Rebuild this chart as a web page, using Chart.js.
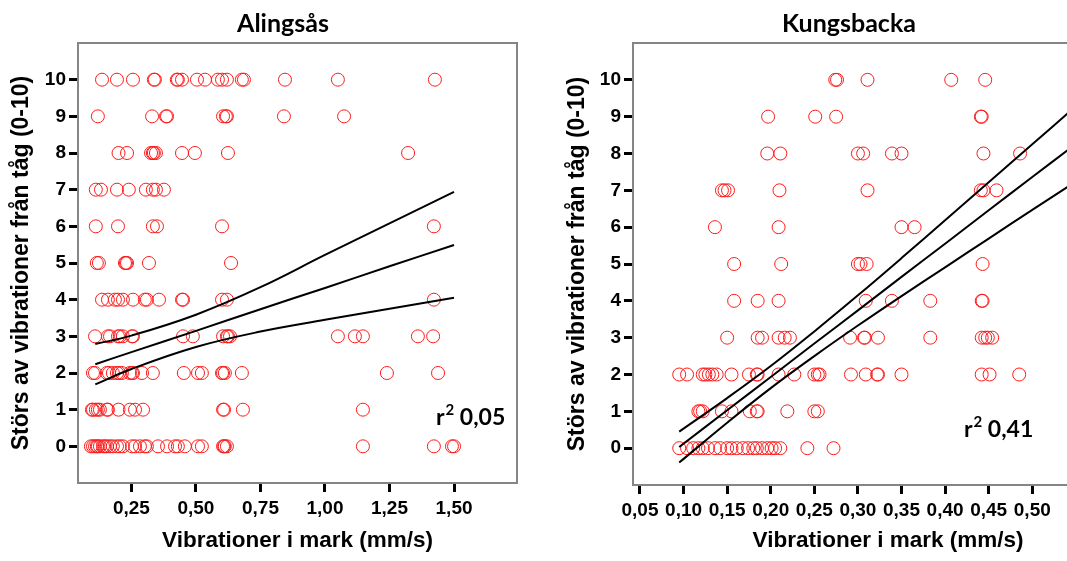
<!DOCTYPE html>
<html>
<head>
<meta charset="utf-8">
<script src="https://cdn.jsdelivr.net/npm/chart.js@4.4.1/dist/chart.umd.min.js"></script>
<style>
  html, body { margin: 0; padding: 0; background: #fff; overflow: hidden; width: 1067px; height: 561px; }
  canvas { position: absolute; top: 0; }
  #alingsas { left: 0; }
  #kungsbacka { left: 533px; }
</style>
</head>
<body>
<canvas id="alingsas" width="533" height="561"></canvas>
<canvas id="kungsbacka" width="630" height="561"></canvas>
<script>
// Tick labels
const scoreTicks = [0, 1, 2, 3, 4, 5, 6, 7, 8, 9, 10];
const alingsasXTicks = [0.25, 0.5, 0.75, 1.0, 1.25, 1.5];
const kungsbackaXTicks = [0.05, 0.10, 0.15, 0.20, 0.25, 0.30, 0.35, 0.40, 0.45, 0.50];

// Alingsås: vibration values (mm/s) per annoyance score, index = score 0..10
const alingsasByScore = [
  [0.093, 0.101, 0.109, 0.116, 0.12, 0.128, 0.14, 0.147, 0.155, 0.167, 0.178, 0.194, 0.205, 0.217, 0.252, 0.264, 0.283, 0.302, 0.31, 0.353, 0.388, 0.419, 0.43, 0.457, 0.508, 0.523, 0.605, 0.609, 0.612, 0.62, 1.147, 1.422, 1.492, 1.5],
  [0.097, 0.101, 0.112, 0.12, 0.128, 0.155, 0.159, 0.2, 0.244, 0.264, 0.295, 0.605, 0.609, 0.682, 1.147],
  [0.101, 0.109, 0.155, 0.163, 0.178, 0.194, 0.202, 0.213, 0.244, 0.252, 0.256, 0.291, 0.333, 0.453, 0.508, 0.523, 0.601, 0.605, 0.612, 0.678, 1.24, 1.438],
  [0.109, 0.159, 0.167, 0.198, 0.205, 0.217, 0.252, 0.256, 0.45, 0.488, 0.605, 0.62, 0.624, 0.632, 1.05, 1.116, 1.147, 1.36, 1.419],
  [0.136, 0.159, 0.186, 0.198, 0.217, 0.256, 0.302, 0.31, 0.357, 0.446, 0.45, 0.601, 0.62, 1.422],
  [0.116, 0.124, 0.225, 0.229, 0.233, 0.318, 0.636],
  [0.112, 0.198, 0.333, 0.349, 0.601, 1.422],
  [0.112, 0.132, 0.194, 0.24, 0.306, 0.333, 0.345, 0.376],
  [0.2, 0.233, 0.326, 0.333, 0.337, 0.345, 0.446, 0.496, 0.624, 1.322],
  [0.12, 0.33, 0.384, 0.388, 0.605, 0.616, 0.62, 0.841, 1.074],
  [0.136, 0.194, 0.256, 0.337, 0.341, 0.426, 0.43, 0.446, 0.504, 0.535, 0.585, 0.601, 0.62, 0.678, 0.686, 0.845, 1.05, 1.426]
];
// Alingsås regression line and confidence band
const alingsasFitX = [0.11, 0.25, 0.5, 0.75, 1.0, 1.25, 1.5];
const alingsasFit = [2.24, 2.57, 3.15, 3.74, 4.32, 4.91, 5.49];
const alingsasUpper = [2.79, 3.02, 3.59, 4.34, 5.22, 6.08, 6.94];
const alingsasLower = [1.69, 2.11, 2.71, 3.13, 3.45, 3.75, 4.05];

// Kungsbacka: vibration values (mm/s) per annoyance score, index = score 0..10
const kungsbackaByScore = [
  [0.095, 0.104, 0.111, 0.117, 0.122, 0.128, 0.136, 0.142, 0.15, 0.155, 0.161, 0.168, 0.174, 0.18, 0.184, 0.19, 0.196, 0.201, 0.205, 0.211, 0.242, 0.272],
  [0.117, 0.119, 0.122, 0.144, 0.155, 0.176, 0.184, 0.185, 0.219, 0.25, 0.254],
  [0.095, 0.104, 0.122, 0.125, 0.129, 0.133, 0.138, 0.155, 0.175, 0.184, 0.185, 0.209, 0.227, 0.25, 0.254, 0.256, 0.292, 0.309, 0.322, 0.323, 0.35, 0.442, 0.451, 0.485],
  [0.15, 0.185, 0.19, 0.209, 0.216, 0.222, 0.291, 0.307, 0.308, 0.323, 0.383, 0.442, 0.446, 0.449, 0.454],
  [0.158, 0.185, 0.209, 0.309, 0.339, 0.383, 0.442, 0.443],
  [0.158, 0.212, 0.3, 0.303, 0.31, 0.443],
  [0.136, 0.209, 0.35, 0.365],
  [0.144, 0.147, 0.151, 0.21, 0.311, 0.441, 0.444, 0.459],
  [0.196, 0.211, 0.3, 0.306, 0.339, 0.35, 0.444, 0.486],
  [0.197, 0.251, 0.275, 0.441, 0.442],
  [0.274, 0.276, 0.311, 0.407, 0.446]
];
// Kungsbacka regression line and confidence band
const kungsbackaFitX = [0.095, 0.15, 0.2, 0.25, 0.3, 0.35, 0.4, 0.45, 0.5, 0.545];
const kungsbackaFit = [0.03, 1.03, 1.93, 2.84, 3.74, 4.65, 5.55, 6.46, 7.36, 8.17];
const kungsbackaUpper = [0.45, 1.36, 2.23, 3.17, 4.15, 5.16, 6.19, 7.22, 8.25, 9.18];
const kungsbackaLower = [-0.39, 0.69, 1.63, 2.50, 3.33, 4.13, 4.91, 5.69, 6.47, 7.16];

const axisFont = 'Liberation Sans, Arial, sans-serif';
const labelFont = 'Lato, Calibri, sans-serif';

function makeChart(id, cfg) {
    // Flatten score rows into points
    const points = [];
    cfg.rows.forEach((xs, score) => xs.forEach(x => points.push({ x: x, y: score })));
    const curve = ys => cfg.fitX.map((x, i) => ({ x: x, y: ys[i] }));
    const fitStyle = { showLine: true, borderColor: '#000', borderWidth: 2, pointRadius: 0, tension: 0.4, order: 0 };

    // Titles, frame and r² label
    const decor = {
        id: 'decor',
        afterDraw(chart) {
            const ctx = chart.ctx;
            const a = chart.chartArea;
            ctx.save();
            ctx.strokeStyle = '#858585';
            ctx.lineWidth = 2;
            ctx.strokeRect(a.left, a.top, a.right - a.left, a.bottom - a.top);

            ctx.fillStyle = '#000';
            ctx.textAlign = 'center';
            ctx.textBaseline = 'middle';
            ctx.font = 'bold 25px ' + labelFont;
            ctx.fillText(cfg.title, cfg.titleX, 24);

            ctx.textAlign = 'left';
            ctx.textBaseline = 'alphabetic';
            let x = cfg.r2X;
            ctx.font = 'bold 23px ' + labelFont;
            ctx.fillText('r', x, cfg.r2Y);
            x += ctx.measureText('r').width + 1;
            ctx.font = 'bold 15px ' + labelFont;
            ctx.fillText('2', x, cfg.r2Y - 10);
            x += ctx.measureText('2').width;
            ctx.font = 'bold 23px ' + labelFont;
            ctx.fillText(' ' + cfg.r2, x, cfg.r2Y);
            ctx.restore();
        }
    };

    return new Chart(document.getElementById(id), {
        type: 'scatter',
        data: {
            datasets: [
                { ...fitStyle, data: curve(cfg.upper) },
                { ...fitStyle, data: curve(cfg.fit) },
                { ...fitStyle, data: curve(cfg.lower) },
                {
                    data: points,
                    pointStyle: 'circle',
                    pointRadius: 6.5,
                    pointBorderWidth: 1,
                    pointBorderColor: '#ff1a1a',
                    pointBackgroundColor: 'rgba(0,0,0,0)',
                    order: 1
                }
            ]
        },
        options: {
            responsive: false,
            animation: false,
            layout: { padding: { top: 43, right: cfg.padRight, left: 0, bottom: 0 } },
            plugins: { legend: { display: false }, tooltip: { enabled: false } },
            scales: {
                x: {
                    type: 'linear',
                    min: cfg.xMin,
                    max: cfg.xMax,
                    afterBuildTicks: s => { s.ticks = cfg.xTicks.map(v => ({ value: v })); },
                    afterFit: s => { s.height = cfg.xAxisHeight; },
                    ticks: {
                        callback: v => v.toFixed(2).replace('.', ','),
                        color: '#000',
                        font: { family: axisFont, size: 19, weight: 'bold' },
                        padding: 5,
                        maxRotation: 0,
                        autoSkip: false
                    },
                    grid: { drawOnChartArea: false, tickLength: 9, tickWidth: 3, tickColor: '#000' },
                    border: { display: false },
                    title: {
                        display: true,
                        text: 'Vibrationer i mark (mm/s)',
                        color: '#000',
                        font: { family: axisFont, size: 22.5, weight: 'bold' },
                        padding: { top: 0, bottom: cfg.xTitlePad }
                    }
                },
                y: {
                    min: -1,
                    max: 11,
                    afterBuildTicks: s => { s.ticks = scoreTicks.map(v => ({ value: v })); },
                    afterFit: s => { s.width = cfg.yAxisWidth; },
                    ticks: {
                        color: '#000',
                        font: { family: axisFont, size: 19, weight: 'bold' },
                        padding: 3
                    },
                    grid: { drawOnChartArea: false, tickLength: 9, tickWidth: 3, tickColor: '#000' },
                    border: { display: false },
                    title: {
                        display: true,
                        text: 'Störs av vibrationer från tåg (0-10)',
                        color: '#000',
                        font: { family: axisFont, size: 23, weight: 'bold' },
                        padding: { top: cfg.yTitlePad, bottom: 0 }
                    }
                }
            }
        },
        plugins: [decor]
    });
}

makeChart('alingsas', {
    title: 'Alingsås', titleX: 283,
    rows: alingsasByScore,
    fitX: alingsasFitX, fit: alingsasFit, upper: alingsasUpper, lower: alingsasLower,
    xTicks: alingsasXTicks, xMin: 0.043, xMax: 1.744,
    padRight: 16, xAxisHeight: 78, yAxisWidth: 78,
    xTitlePad: 7, yTitlePad: 8,
    r2: '0,05', r2X: 436, r2Y: 425
});

makeChart('kungsbacka', {
    title: 'Kungsbacka', titleX: 316,
    rows: kungsbackaByScore,
    fitX: kungsbackaFitX, fit: kungsbackaFit, upper: kungsbackaUpper, lower: kungsbackaLower,
    xTicks: kungsbackaXTicks, xMin: 0.042, xMax: 0.627,
    padRight: 20, xAxisHeight: 76, yAxisWidth: 100,
    xTitlePad: 7, yTitlePad: 31,
    r2: '0,41', r2X: 431, r2Y: 437
});
</script>
</body>
</html>
